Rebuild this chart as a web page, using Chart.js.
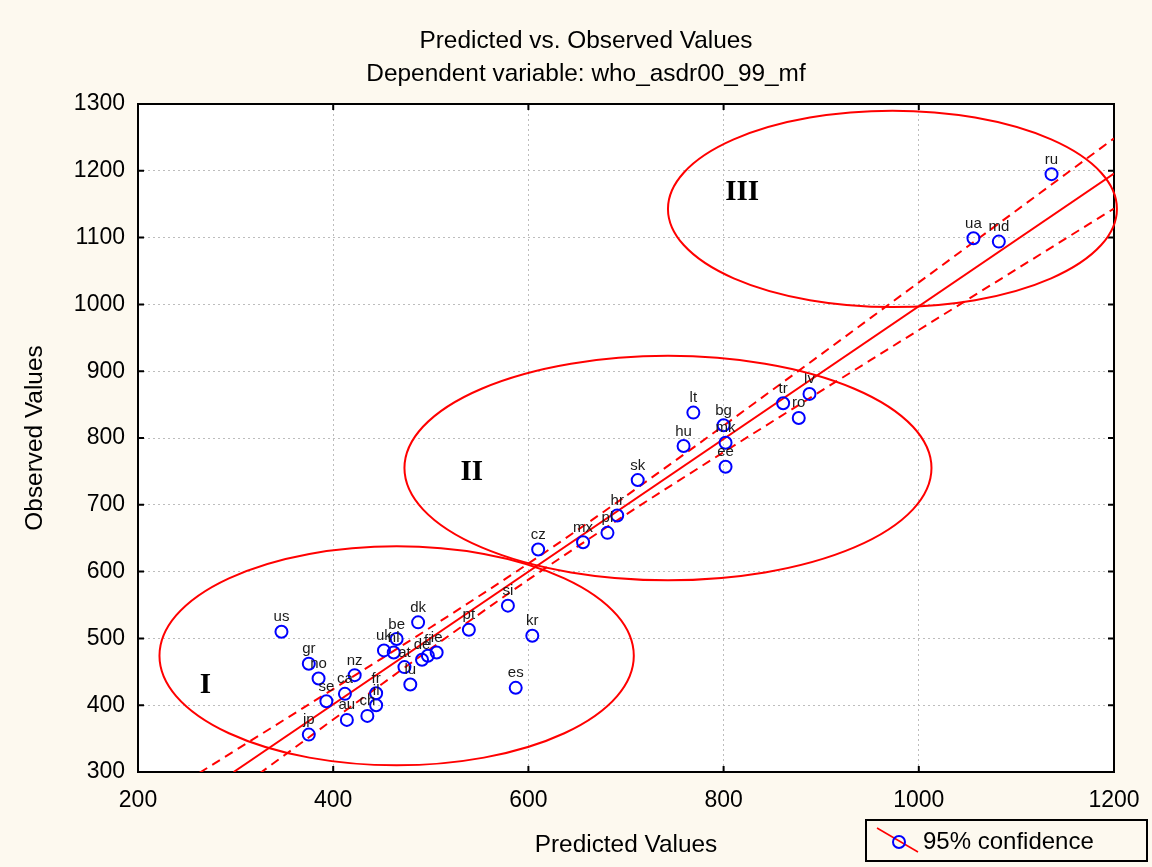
<!DOCTYPE html>
<html>
<head>
<meta charset="utf-8">
<script src="https://cdn.jsdelivr.net/npm/chart.js@4.4.1/dist/chart.umd.min.js"></script>
<style>
  html, body { margin: 0; padding: 0; background: #fdf9ef; }
  #wrap { width: 1152px; height: 867px; }
</style>
</head>
<body>
<div id="wrap"><canvas id="chart" width="1152" height="867"></canvas></div>
<script>
// Countries: predicted vs observed values
const codes = ['us', 'gr', 'no', 'se', 'jp', 'ca', 'au', 'nz', 'ch', 'fr', 'il',
    'uk', 'be', 'nl', 'at', 'lu', 'dk', 'de', 'fi', 'ie', 'pt', 'si', 'kr', 'es',
    'cz', 'mx', 'pl', 'hr', 'sk', 'hu', 'lt', 'bg', 'mk', 'ee', 'tr', 'lv', 'ro',
    'ru', 'ua', 'md'];
const predicted = [347, 375, 385, 393, 375, 412, 414, 422, 435, 444, 444,
    452, 465, 462, 473, 479, 487, 491, 497, 506, 539, 579, 604, 587,
    610, 656, 681, 691, 712, 759, 769, 800, 802, 802, 861, 888, 877,
    1136, 1056, 1082];
const observed = [510, 462, 440, 406, 356, 417, 378, 445, 384, 418, 400,
    482, 499, 479, 457, 431, 524, 468, 474, 479, 513, 549, 504, 426,
    633, 644, 658, 684, 737, 788, 838, 819, 793, 757, 852, 866, 830,
    1195, 1099, 1094];

// Regression line ends
const fitX = [298, 1200];
const fitY = [300, 1196];

// 95% confidence band
const bandX = [250, 300, 350, 400, 450, 500, 550, 600, 650, 700,
    750, 800, 850, 900, 950, 1000, 1050, 1100, 1150, 1200];
const bandUpper = [287.0, 332.6, 378.3, 424.1, 470.2, 516.7, 563.8, 612.1, 661.9, 713.2,
    765.6, 818.5, 871.9, 925.3, 979.1, 1032.9, 1086.6, 1140.6, 1194.5, 1248.5];
const bandLower = [217.6, 271.4, 325.1, 378.5, 431.8, 484.7, 536.8, 587.9, 637.3, 685.4,
    732.4, 778.7, 824.7, 870.5, 916.1, 961.7, 1007.2, 1052.6, 1098.1, 1143.5];

// Axis ticks
const xTicks = [200, 400, 600, 800, 1000, 1200];
const yTicks = [300, 400, 500, 600, 700, 800, 900, 1000, 1100, 1200, 1300];

// Hand-drawn cluster rings (data units)
const clusterNames = ['I', 'II', 'III'];
const clusterCx = [465, 743, 973];
const clusterCy = [474, 755, 1143];
const clusterRx = [243, 270, 230];
const clusterRy = [164, 168, 147];
const clusterLabelX = [269, 542, 819];
const clusterLabelY = [430, 748, 1168];

const FONT = "'Liberation Sans', Arial, sans-serif";
const RED = '#ff0000';
const BLUE = '#0000ff';

const toXY = (xs, ys) => xs.map((x, i) => ({ x: x, y: ys[i] }));

// Background: cream page, white plot area
const backdrop = {
    id: 'backdrop',
    beforeDraw: (chart) => {
        const { ctx, chartArea: a } = chart;
        ctx.save();
        ctx.fillStyle = '#fdf9ef';
        ctx.fillRect(0, 0, chart.width, chart.height);
        ctx.fillStyle = '#ffffff';
        ctx.fillRect(a.left, a.top, a.right - a.left, a.bottom - a.top);
        ctx.restore();
    }
};

// Black frame with inward tick marks on all four sides
const frame = {
    id: 'frame',
    beforeDatasetsDraw: (chart) => {
        const { ctx, chartArea: a, scales } = chart;
        ctx.save();
        ctx.strokeStyle = '#000';
        ctx.lineWidth = 2;
        ctx.strokeRect(a.left, a.top, a.right - a.left, a.bottom - a.top);
        ctx.beginPath();
        xTicks.forEach(v => {
            const px = scales.x.getPixelForValue(v);
            ctx.moveTo(px, a.bottom); ctx.lineTo(px, a.bottom - 6);
            ctx.moveTo(px, a.top); ctx.lineTo(px, a.top + 6);
        });
        yTicks.forEach(v => {
            const py = scales.y.getPixelForValue(v);
            ctx.moveTo(a.left, py); ctx.lineTo(a.left + 6, py);
            ctx.moveTo(a.right, py); ctx.lineTo(a.right - 6, py);
        });
        ctx.stroke();
        ctx.restore();
    }
};

// Country codes above the points, cluster rings and numerals
const annotations = {
    id: 'annotations',
    afterDatasetsDraw: (chart) => {
        const { ctx, scales } = chart;
        const meta = chart.getDatasetMeta(0);
        ctx.save();
        ctx.fillStyle = '#1a1a1a';
        ctx.font = '15px ' + FONT;
        ctx.textAlign = 'center';
        ctx.textBaseline = 'alphabetic';
        meta.data.forEach((pt, i) => {
            ctx.fillText(codes[i], pt.x, pt.y - 10.5);
        });

        ctx.strokeStyle = RED;
        ctx.lineWidth = 2;
        clusterNames.forEach((name, i) => {
            const cx = scales.x.getPixelForValue(clusterCx[i]);
            const cy = scales.y.getPixelForValue(clusterCy[i]);
            const rx = Math.abs(scales.x.getPixelForValue(clusterCx[i] + clusterRx[i]) - cx);
            const ry = Math.abs(scales.y.getPixelForValue(clusterCy[i] + clusterRy[i]) - cy);
            ctx.beginPath();
            ctx.ellipse(cx, cy, rx, ry, 0, 0, Math.PI * 2);
            ctx.stroke();
        });

        ctx.fillStyle = '#000';
        ctx.font = "bold 29px 'Liberation Serif', 'Times New Roman', serif";
        ctx.textBaseline = 'middle';
        clusterNames.forEach((name, i) => {
            ctx.fillText(name,
                scales.x.getPixelForValue(clusterLabelX[i]),
                scales.y.getPixelForValue(clusterLabelY[i]));
        });
        ctx.restore();
    }
};

// Legend box in the lower right corner
const legendBox = {
    id: 'legendBox',
    afterDraw: (chart) => {
        const ctx = chart.ctx;
        ctx.save();
        ctx.strokeStyle = '#000';
        ctx.lineWidth = 2;
        ctx.strokeRect(866, 820, 281, 41);
        ctx.strokeStyle = RED;
        ctx.lineWidth = 1.5;
        ctx.beginPath();
        ctx.moveTo(877, 828);
        ctx.lineTo(918, 852);
        ctx.stroke();
        ctx.strokeStyle = BLUE;
        ctx.lineWidth = 2;
        ctx.beginPath();
        ctx.arc(899, 842, 6, 0, Math.PI * 2);
        ctx.stroke();
        ctx.fillStyle = '#000';
        ctx.font = '24px ' + FONT;
        ctx.textAlign = 'left';
        ctx.textBaseline = 'middle';
        ctx.fillText('95% confidence', 923, 842);
        ctx.restore();
    }
};

new Chart(document.getElementById('chart'), {
    type: 'scatter',
    data: {
        datasets: [
            {
                label: 'countries',
                data: toXY(predicted, observed),
                pointStyle: 'circle',
                pointRadius: 6,
                pointBorderWidth: 2,
                pointBorderColor: BLUE,
                pointBackgroundColor: 'rgba(0,0,0,0)'
            },
            {
                label: 'fit',
                data: toXY(fitX, fitY),
                showLine: true,
                borderColor: RED,
                borderWidth: 2,
                pointRadius: 0
            },
            {
                label: 'upper',
                data: toXY(bandX, bandUpper),
                showLine: true,
                borderColor: RED,
                borderWidth: 2,
                borderDash: [9, 6],
                cubicInterpolationMode: 'monotone',
                pointRadius: 0
            },
            {
                label: 'lower',
                data: toXY(bandX, bandLower),
                showLine: true,
                borderColor: RED,
                borderWidth: 2,
                borderDash: [9, 6],
                cubicInterpolationMode: 'monotone',
                pointRadius: 0
            }
        ]
    },
    options: {
        responsive: false,
        animation: false,
        devicePixelRatio: 1,
        layout: { padding: { left: 58, right: 38, top: 0, bottom: 0 } },
        plugins: {
            legend: { display: false },
            tooltip: { enabled: false },
            title: {
                display: true,
                text: ['Predicted vs. Observed Values', 'Dependent variable: who_asdr00_99_mf'],
                color: '#000',
                font: { family: FONT, size: 24.4, weight: 'normal', lineHeight: 33 / 24.4 },
                padding: { top: 24.5, bottom: 13.5 }
            }
        },
        scales: {
            x: {
                type: 'linear',
                min: 200,
                max: 1200,
                afterBuildTicks: (scale) => { scale.ticks = xTicks.map(v => ({ value: v })); },
                afterFit: (scale) => {
                    scale.height = 95;
                    scale.paddingLeft = 0;
                    scale.paddingRight = 0;
                },
                grid: { color: '#bdbdbd', lineWidth: 1, drawTicks: false },
                border: { display: false, dash: [2, 3] },
                ticks: {
                    color: '#000',
                    font: { family: FONT, size: 23 },
                    padding: 14.5,
                    maxRotation: 0,
                    callback: (v) => String(v)
                },
                title: {
                    display: true,
                    text: 'Predicted Values',
                    color: '#000',
                    font: { family: FONT, size: 24.4 },
                    padding: { top: 0, bottom: 7.2 }
                }
            },
            y: {
                type: 'linear',
                min: 300,
                max: 1300,
                afterBuildTicks: (scale) => { scale.ticks = yTicks.map(v => ({ value: v })); },
                afterFit: (scale) => {
                    scale.width = 80;
                    scale.paddingTop = 0;
                    scale.paddingBottom = 0;
                },
                grid: { color: '#bdbdbd', lineWidth: 1, drawTicks: false },
                border: { display: false, dash: [2, 3] },
                ticks: {
                    color: '#000',
                    font: { family: FONT, size: 23 },
                    padding: 13,
                    callback: (v) => String(v)
                },
                title: {
                    display: true,
                    text: 'Observed Values',
                    color: '#000',
                    font: { family: FONT, size: 24.4 },
                    padding: { top: -37.6, bottom: 0 }
                }
            }
        }
    },
    plugins: [backdrop, frame, annotations, legendBox]
});
</script>
</body>
</html>
